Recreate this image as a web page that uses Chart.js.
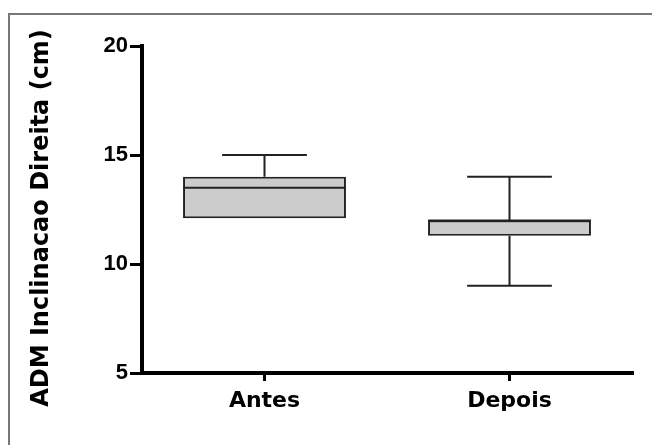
<!DOCTYPE html>
<html>
<head>
<meta charset="utf-8">
<script src="https://cdn.jsdelivr.net/npm/chart.js@4"></script>
<style>
  html, body { margin: 0; padding: 0; background: #fff; }
  #frame {
    position: absolute; left: 8px; top: 13px; right: 0; bottom: 0;
    border-top: 2px solid #777; border-left: 2px solid #777;
  }
  #wrap { position: absolute; left: 0; top: 0; width: 652px; height: 445px; }
</style>
</head>
<body>
<div id="frame"></div>
<div id="wrap"><canvas id="boxChart" width="652" height="445"></canvas></div>
<script>
// Box plot values
const groups = ['Antes', 'Depois'];
const mins = [12.1, 9];
const q1s = [12.1, 11.3];
const medians = [13.5, 12];
const q3s = [14, 12];
const maxs = [15, 14];
const yTicks = [5, 10, 15, 20];
const axisTitle = 'ADM Inclinacao Direita (cm)';

// Whiskers, caps and median lines drawn through the chart's own scales
const whiskerPlugin = {
    id: 'whiskers',
    afterDatasetsDraw(chart) {
        const ctx = chart.ctx;
        const y = chart.scales.y;
        const meta = chart.getDatasetMeta(0);
        ctx.save();
        ctx.strokeStyle = '#222';
        ctx.lineWidth = 2;
        meta.data.forEach(function(bar, i) {
            const cx = bar.x;
            const half = bar.width / 2;
            const cap = bar.width * 0.26;
            ctx.beginPath();
            // median
            ctx.moveTo(cx - half, y.getPixelForValue(medians[i]));
            ctx.lineTo(cx + half, y.getPixelForValue(medians[i]));
            // upper whisker
            if (maxs[i] > q3s[i]) {
                ctx.moveTo(cx, y.getPixelForValue(q3s[i]));
                ctx.lineTo(cx, y.getPixelForValue(maxs[i]));
                ctx.moveTo(cx - cap, y.getPixelForValue(maxs[i]));
                ctx.lineTo(cx + cap, y.getPixelForValue(maxs[i]));
            }
            // lower whisker
            if (mins[i] < q1s[i]) {
                ctx.moveTo(cx, y.getPixelForValue(q1s[i]));
                ctx.lineTo(cx, y.getPixelForValue(mins[i]));
                ctx.moveTo(cx - cap, y.getPixelForValue(mins[i]));
                ctx.lineTo(cx + cap, y.getPixelForValue(mins[i]));
            }
            ctx.stroke();
        });
        ctx.restore();
    }
};

// Rotated y axis title, centred a bit lower than the chart area
const titlePlugin = {
    id: 'yTitle',
    afterDraw(chart) {
        const ctx = chart.ctx;
        ctx.save();
        ctx.translate(42, 218);
        ctx.rotate(-Math.PI / 2);
        ctx.font = 'bold 24px "DejaVu Sans"';
        ctx.fillStyle = '#000';
        ctx.textAlign = 'center';
        ctx.textBaseline = 'middle';
        ctx.fillText(axisTitle, 0, 0);
        ctx.restore();
    }
};

const ctx = document.getElementById('boxChart').getContext('2d');
window.boxChart = new Chart(ctx, {
    type: 'bar',
    data: {
        labels: groups,
        datasets: [{
            data: q1s.map((q, i) => [q, q3s[i]]),
            backgroundColor: '#cccccc',
            borderColor: '#222',
            borderWidth: 2,
            borderSkipped: false,
            categoryPercentage: 1,
            barPercentage: 0.665
        }]
    },
    options: {
        responsive: false,
        animation: false,
        layout: {
            padding: { left: 0, top: 46, right: 20, bottom: 0 }
        },
        plugins: {
            legend: { display: false },
            tooltip: { enabled: false }
        },
        scales: {
            x: {
                offset: true,
                grid: {
                    offset: false,
                    drawOnChartArea: false,
                    drawTicks: true,
                    tickLength: 8,
                    lineWidth: 3,
                    color: '#000'
                },
                border: { display: true, width: 4, color: '#000' },
                ticks: {
                    color: '#000',
                    padding: 7,
                    font: { family: '"DejaVu Sans"', weight: 'bold', size: 22 }
                },
                afterFit: function(scale) { scale.height = 72; }
            },
            y: {
                min: 5,
                max: 20,
                afterBuildTicks: function(scale) {
                    scale.ticks = yTicks.map(v => ({ value: v }));
                },
                grid: {
                    drawOnChartArea: false,
                    drawTicks: true,
                    tickLength: 12,
                    lineWidth: 3,
                    color: '#000'
                },
                border: { display: true, width: 4, color: '#000' },
                ticks: {
                    color: '#000',
                    padding: 2,
                    font: { family: '"Liberation Sans"', weight: 'bold', size: 22 }
                },
                afterFit: function(scale) { scale.width = 142; }
            }
        }
    },
    plugins: [whiskerPlugin, titlePlugin]
});
</script>
</body>
</html>
